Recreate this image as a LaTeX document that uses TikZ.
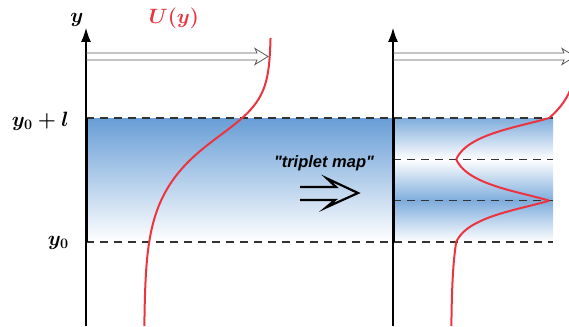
\documentclass[tikz,border=0pt]{standalone}
\usepackage{amsmath,amssymb}
\usepackage{fontspec}
\newfontfamily\mapfont{Liberation Sans}[Ligatures=TeXOff]
\usepackage{tikz}
\usetikzlibrary{arrows.meta}
\definecolor{bandblue}{RGB}{104,158,214}
\definecolor{profred}{RGB}{236,52,64}
\tikzset{
  axisline/.style={line width=1.1pt, -{Latex[length=14pt, width=10pt]}},
  edgeline/.style={line width=3pt, black},
  dashline/.style={dash pattern=on 8pt off 6pt, line width=1.1pt, black!80},
  profile/.style={line width=2pt, profred, smooth},
  flowarrow/.style={line width=0.8pt, draw=black!65, miter limit=20},
  maparrow/.style={line width=2.2pt, black, miter limit=20},
  mathlabel/.style={font=\boldmath\fontsize{20}{24}\selectfont, inner sep=0pt},
  maplabel/.style={font=\mapfont\bfseries\itshape\fontsize{16.5}{19}\selectfont},
  fadedown/.style={top color=bandblue!85, middle color=bandblue!25!white, bottom color=white},
  fadeup/.style={top color=white, middle color=bandblue!25!white, bottom color=bandblue!85}
}

\begin{document}
\begin{tikzpicture}[x=1pt, y=-1pt,
  declare function={wid(\p)=50+12*tanh((\p-145)/50);
    prof(\p)=207.5+63.5*tanh((145-\p)/wid(\p));}]
  \clip (0,0) rectangle (569,326);

  % shaded layers
  \shade[top color=bandblue, middle color=bandblue!45!white, bottom color=white] (86,118) rectangle (393,242);
  \shade[fadedown] (393,118) rectangle (553,159.33);
  \shade[fadeup] (393,159.33) rectangle (553,200.67);
  \shade[fadedown] (393,200.67) rectangle (553,242);

  % levels
  \foreach \lev in {118,242}
    \draw[dashline] (86,\lev) -- (553,\lev);
  \foreach \lev in {159.33,200.67}
    \draw[dashline] (393,\lev) -- (553,\lev);

  % axes
  \coordinate (axA0) at (86,326);  \coordinate (axA1) at (86,28);
  \coordinate (axB0) at (393,326); \coordinate (axB1) at (393,28);
  \draw[axisline] (axA0) -- (axA1);
  \draw[axisline] (axB0) -- (axB1);
  \draw[edgeline] (86,118) -- (86,242);
  \draw[edgeline] (393,118) -- (393,242);

  % flow arrows (hollow)
  \foreach \xa/\xb in {86/268, 393/575}
    \draw[flowarrow] (\xa,53) -- (\xb-11,53) -- (\xb-13,48.5) -- (\xb,56.5)
      -- (\xb-13,64.5) -- (\xb-11,60) -- (\xa,60);

  % velocity profiles
  \draw[profile] plot[domain=38:326, samples=90, variable=\t] ({prof(\t)}, {\t});
  \draw[profile] plot[domain=86:118, samples=20, variable=\t] ({prof(\t)+307}, {\t});
  \draw[profile] plot[domain=118:159.33, samples=50, variable=\t] ({prof(242-3*(159.33-\t))+307}, {\t});
  \draw[profile] plot[domain=159.33:200.67, samples=50, variable=\t] ({prof(242-3*(\t-159.33))+307}, {\t});
  \draw[profile] plot[domain=200.67:242, samples=50, variable=\t] ({prof(242-3*(242-\t))+307}, {\t});
  \draw[profile] plot[domain=242:326, samples=30, variable=\t] ({prof(\t)+307}, {\t});

  % labels
  \node[mathlabel] (ylab) at (77,20) {$y$};
  \node[mathlabel, text=profred, font=\boldmath\fontsize{22}{26}\selectfont] (ulab) at (174,18) {$U(y)$};
  \node[mathlabel, anchor=base east] (ytop) at (69,126) {$y_0+l$};
  \node[mathlabel, anchor=base east] (ybot) at (69,245) {$y_0$};
  \node[maplabel] (maplab) at (324,163) {"triplet map"};

  % triplet map arrow (hollow)
  \coordinate (map0) at (300,187); \coordinate (tip) at (358,193);
  \draw[maparrow] (map0) -- (336,187) -- (327,178.5) -- (tip)
    -- (326,207.5) -- (335,200) -- (300,200);
\end{tikzpicture}
\end{document}
